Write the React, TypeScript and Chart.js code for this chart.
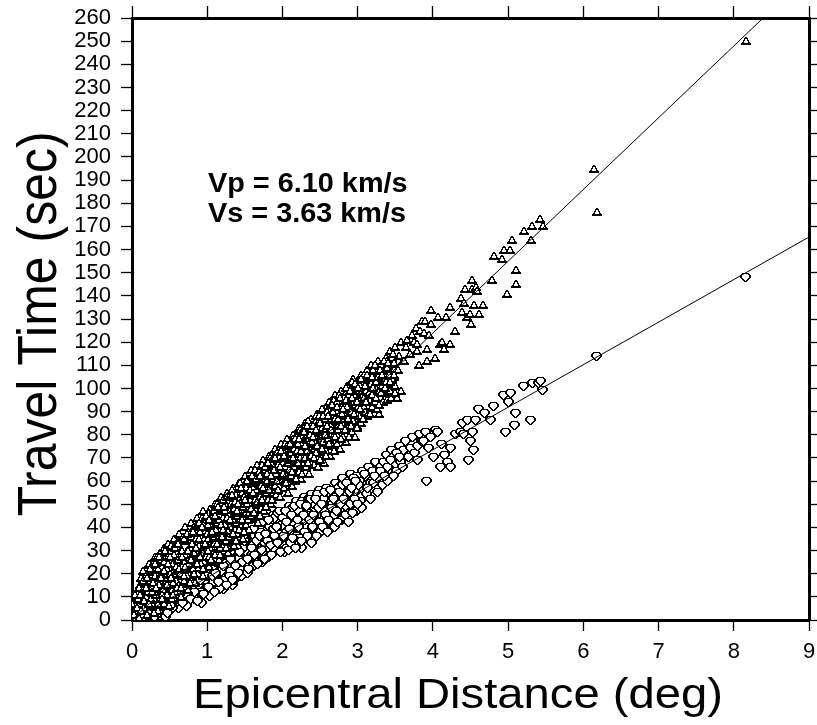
import React, { useEffect, useRef } from "react";
import { Chart, registerables } from "chart.js";

Chart.register(...registerables);

const FONT = '"Liberation Sans", Arial, Helvetica, sans-serif';

const X_TITLE = "Epicentral Distance (deg)";
const Y_TITLE = "Travel Time (sec)";
const NOTE_VP = "Vp = 6.10 km/s";
const NOTE_VS = "Vs = 3.63 km/s";

const X_MIN = 0;
const X_MAX = 9;
const Y_MIN = 0;
const Y_MAX = 260;

// fitted lines (distance deg, time s)
const LINE_S_X = [0, 8.39];
const LINE_S_Y = [0, 260];
const LINE_P_X = [0, 9];
const LINE_P_Y = [0, 165.4];

// S arrivals (triangles)
const S_NEAR: [number, number][] = [
  [0.02, 1], [0.03, 5], [0.05, 9], [0.06, 2], [0.08, 12], [0.09, 6], [0.1, 3], [0.11, 15], [0.12, 9], [0.14, 1],
  [0.15, 18], [0.16, 12], [0.18, 5], [0.19, 21], [0.2, 15], [0.21, 8], [0.23, 24], [0.24, 11], [0.25, 18], [0.26, 3],
  [0.28, 22], [0.29, 14], [0.3, 27], [0.31, 8], [0.33, 19], [0.34, 25], [0.35, 12], [0.37, 29], [0.38, 17], [0.39, 6],
  [0.4, 23], [0.42, 31], [0.43, 14], [0.44, 20], [0.45, 27], [0.47, 10], [0.48, 33], [0.49, 18], [0.5, 25],
  [0.52, 30], [0.53, 13], [0.54, 21], [0.56, 35], [0.57, 26], [0.58, 17], [0.6, 31], [0.61, 22], [0.62, 37], [0.64, 12],
  [0.65, 28], [0.66, 19], [0.68, 34], [0.69, 25], [0.7, 40], [0.72, 16], [0.73, 30], [0.74, 22], [0.76, 37], [0.77, 28],
  [0.78, 42], [0.8, 19], [0.81, 33], [0.82, 25], [0.84, 39], [0.85, 30], [0.86, 44], [0.88, 22], [0.89, 35], [0.9, 27],
  [0.92, 41], [0.93, 32], [0.94, 47], [0.96, 25], [0.97, 38], [0.98, 30], [1.0, 44],
];
const S_NEAR_2: [number, number][] = [
  [0.01, 3], [0.03, 8], [0.04, 0.5], [0.06, 12], [0.07, 4], [0.08, 9], [0.09, 14], [0.05, 6], [0.02, 10],
  [0.11, 7], [0.12, 18], [0.13, 2], [0.14, 13], [0.15, 21], [0.16, 5], [0.17, 16], [0.18, 10], [0.19, 19],
  [0.21, 12], [0.22, 24], [0.23, 4], [0.24, 17], [0.25, 9], [0.26, 21], [0.27, 14], [0.28, 6], [0.29, 25],
  [0.31, 19], [0.32, 11], [0.33, 27], [0.34, 4], [0.35, 22], [0.36, 15], [0.37, 9], [0.38, 26], [0.39, 20],
  [0.41, 13], [0.42, 25], [0.43, 7], [0.44, 29], [0.45, 17], [0.46, 22], [0.47, 11], [0.48, 27], [0.49, 15],
  [0.51, 20], [0.52, 32], [0.53, 9], [0.54, 24], [0.55, 16], [0.56, 28], [0.57, 12], [0.58, 33], [0.59, 21],
  [0.61, 26], [0.62, 15], [0.63, 34], [0.64, 20], [0.65, 10], [0.66, 30], [0.67, 23], [0.68, 36], [0.69, 17],
  [0.71, 28], [0.72, 34], [0.73, 19], [0.74, 13], [0.75, 38], [0.76, 24], [0.77, 31], [0.78, 17], [0.79, 36],
  [0.81, 22], [0.82, 40], [0.83, 29], [0.84, 16], [0.85, 35], [0.86, 26], [0.87, 41], [0.88, 20], [0.89, 32],
  [0.91, 38], [0.92, 24], [0.93, 44], [0.94, 29], [0.95, 19], [0.96, 35], [0.97, 42], [0.98, 27], [0.99, 33],
];
const S_MID: [number, number][] = [
  [1.01, 35], [1.02, 27], [1.04, 48], [1.05, 40], [1.06, 31], [1.08, 45], [1.09, 36], [1.1, 50], [1.12, 29], [1.13, 42],
  [1.14, 34], [1.16, 47], [1.17, 39], [1.18, 53], [1.2, 32], [1.21, 44], [1.22, 37], [1.24, 50], [1.25, 41], [1.26, 55],
  [1.28, 35], [1.29, 47], [1.3, 40], [1.32, 53], [1.33, 44], [1.34, 57], [1.36, 38], [1.37, 49], [1.38, 42], [1.4, 55],
  [1.41, 46], [1.42, 59], [1.44, 40], [1.45, 51], [1.46, 45], [1.48, 58], [1.49, 49], [1.5, 62],
  [1.52, 44], [1.53, 55], [1.54, 48], [1.56, 61], [1.57, 52], [1.58, 65], [1.6, 46], [1.61, 57], [1.62, 50], [1.64, 63],
  [1.65, 54], [1.66, 67], [1.68, 48], [1.69, 59], [1.7, 53], [1.72, 65], [1.73, 56], [1.74, 69], [1.76, 51], [1.77, 61],
  [1.78, 56], [1.8, 67], [1.81, 59], [1.82, 71], [1.84, 53], [1.85, 64], [1.86, 58], [1.88, 69], [1.89, 61], [1.9, 74],
  [1.92, 56], [1.93, 66], [1.94, 60], [1.96, 72], [1.97, 64], [1.98, 76], [2.0, 58],
];
const S_MID_2: [number, number][] = [
  [1.01, 41], [1.02, 23], [1.03, 46], [1.04, 31], [1.05, 37], [1.06, 25], [1.07, 44], [1.08, 33], [1.09, 48],
  [1.11, 28], [1.12, 39], [1.13, 50], [1.14, 35], [1.15, 26], [1.16, 43], [1.17, 31], [1.18, 48], [1.19, 38],
  [1.21, 52], [1.22, 30], [1.23, 41], [1.24, 47], [1.25, 34], [1.26, 53], [1.27, 38], [1.28, 29], [1.29, 45],
  [1.31, 50], [1.32, 36], [1.33, 56], [1.34, 43], [1.35, 32], [1.36, 48], [1.37, 39], [1.38, 54], [1.39, 45],
  [1.41, 37], [1.42, 52], [1.43, 59], [1.44, 46], [1.45, 40], [1.46, 55], [1.47, 35], [1.48, 49], [1.49, 43],
  [1.51, 57], [1.52, 41], [1.53, 50], [1.54, 61], [1.55, 46], [1.56, 39], [1.57, 54], [1.58, 48], [1.59, 59],
  [1.61, 44], [1.62, 60], [1.63, 52], [1.64, 65], [1.65, 47], [1.66, 56], [1.67, 42], [1.68, 62], [1.69, 50],
  [1.71, 58], [1.72, 48], [1.73, 67], [1.74, 53], [1.75, 62], [1.76, 47], [1.77, 65], [1.78, 55], [1.79, 60],
  [1.81, 52], [1.82, 64], [1.83, 70], [1.84, 57], [1.85, 50], [1.86, 67], [1.87, 61], [1.88, 55], [1.89, 71],
  [1.91, 63], [1.92, 54], [1.93, 72], [1.94, 67], [1.95, 58], [1.96, 70], [1.97, 53], [1.98, 65], [1.99, 60],
];
const S_FAR: [number, number][] = [
  [2.01, 68], [2.02, 62], [2.04, 74], [2.05, 66], [2.06, 78], [2.08, 61], [2.09, 71], [2.1, 65], [2.12, 77], [2.13, 69],
  [2.14, 80], [2.16, 63], [2.17, 73], [2.18, 67], [2.2, 79], [2.21, 71], [2.22, 83], [2.24, 66], [2.25, 76], [2.26, 70],
  [2.28, 81], [2.29, 73], [2.3, 85], [2.32, 68], [2.33, 78], [2.34, 72], [2.36, 84], [2.37, 76], [2.38, 87], [2.4, 70],
  [2.41, 80], [2.42, 74], [2.44, 86], [2.45, 78], [2.46, 89], [2.48, 73], [2.49, 83], [2.5, 77],
  [2.52, 88], [2.53, 80], [2.54, 91], [2.56, 75], [2.57, 85], [2.58, 79], [2.6, 91], [2.61, 83], [2.62, 94], [2.64, 77],
  [2.65, 88], [2.66, 82], [2.68, 93], [2.69, 85], [2.7, 97], [2.72, 80], [2.73, 90], [2.74, 84], [2.76, 96], [2.77, 88],
  [2.78, 99], [2.8, 82], [2.81, 93], [2.82, 87], [2.84, 98], [2.85, 90], [2.86, 101], [2.88, 85], [2.89, 95], [2.9, 80],
  [2.92, 100], [2.93, 92], [2.94, 104], [2.95, 94], [2.96, 87], [2.97, 97], [2.98, 91], [3.0, 103],
  [3.02, 95], [3.03, 88], [3.04, 98], [3.05, 106], [3.06, 99], [3.08, 92], [3.1, 104], [3.12, 97], [3.13, 108], [3.15, 101],
  [3.17, 94], [3.17, 101], [3.18, 110], [3.2, 103], [3.22, 97], [3.24, 107], [3.25, 100], [3.27, 112], [3.28, 89], [3.3, 104],
  [3.32, 99], [3.33, 110], [3.35, 106], [3.35, 104], [3.37, 96], [3.38, 113], [3.4, 102], [3.42, 108], [3.43, 116], [3.45, 98],
  [3.47, 110], [3.48, 105], [3.48, 108], [3.5, 118], [3.52, 96], [3.53, 108], [3.55, 114], [3.57, 99], [3.58, 120], [3.6, 112],
];
const S_FAR_2: [number, number][] = [
  [2.01, 73], [2.02, 57], [2.03, 66], [2.04, 76], [2.05, 61], [2.06, 70], [2.07, 55], [2.08, 68], [2.09, 75],
  [2.11, 62], [2.12, 72], [2.13, 58], [2.14, 78], [2.15, 66], [2.16, 74], [2.17, 60], [2.18, 79], [2.19, 69],
  [2.21, 76], [2.22, 64], [2.23, 82], [2.24, 70], [2.25, 61], [2.26, 79], [2.27, 67], [2.28, 74], [2.29, 83],
  [2.31, 66], [2.32, 80], [2.33, 73], [2.34, 86], [2.35, 63], [2.36, 77], [2.37, 70], [2.38, 84], [2.39, 68],
  [2.41, 84], [2.42, 67], [2.43, 77], [2.44, 88], [2.45, 72], [2.46, 81], [2.47, 66], [2.48, 86], [2.49, 75],
  [2.51, 70], [2.52, 83], [2.53, 91], [2.54, 77], [2.55, 68], [2.56, 87], [2.57, 81], [2.58, 73], [2.59, 90],
  [2.61, 78], [2.62, 88], [2.63, 71], [2.64, 93], [2.65, 84], [2.66, 75], [2.67, 90], [2.68, 80], [2.69, 95],
  [2.71, 86], [2.72, 76], [2.73, 94], [2.74, 82], [2.75, 97], [2.76, 74], [2.77, 89], [2.78, 84], [2.79, 92],
  [2.81, 79], [2.82, 96], [2.83, 88], [2.84, 77], [2.85, 100], [2.86, 92], [2.87, 83], [2.88, 97], [2.89, 86],
  [2.91, 90], [2.92, 81], [2.93, 103], [2.94, 86], [2.95, 97], [2.96, 79], [2.97, 93], [2.98, 101], [2.99, 84],
  [3.01, 92], [3.03, 101], [3.05, 85], [3.07, 97], [3.09, 106], [3.1, 90],
  [3.11, 99], [3.13, 88], [3.15, 105], [3.16, 95], [3.18, 102], [3.19, 92],
  [3.21, 108], [3.23, 94], [3.25, 103], [3.26, 91], [3.28, 107], [3.29, 99],
  [3.31, 110], [3.33, 101], [3.34, 94], [3.36, 108], [3.38, 103], [3.39, 112],
  [3.41, 106], [3.43, 99], [3.45, 113], [3.46, 104], [3.48, 111], [3.49, 101],
];
const S_FILL: [number, number][] = [
  [0.005, 7], [0.025, 2], [0.045, 11], [0.065, 5], [0.085, 9], [0.095, 1],
  [0.105, 11], [0.125, 4], [0.145, 17], [0.165, 8], [0.185, 14], [0.195, 2],
  [0.205, 18], [0.225, 7], [0.245, 22], [0.265, 12], [0.285, 16], [0.295, 3],
  [0.305, 24], [0.325, 14], [0.345, 7], [0.365, 27], [0.385, 18], [0.395, 11],
  [0.405, 9], [0.425, 21], [0.445, 30], [0.465, 15], [0.485, 24], [0.495, 6],
  [0.505, 27], [0.525, 18], [0.545, 11], [0.565, 31], [0.585, 23], [0.595, 14],
  [0.605, 33], [0.625, 22], [0.645, 14], [0.665, 27], [0.685, 35], [0.695, 19],
  [0.705, 23], [0.725, 37], [0.745, 30], [0.765, 16], [0.785, 26], [0.795, 33],
  [0.805, 38], [0.825, 20], [0.845, 31], [0.865, 24], [0.885, 42], [0.895, 35],
  [0.905, 27], [0.925, 40], [0.945, 22], [0.965, 33], [0.985, 45], [0.995, 37],
  [1.005, 30], [1.025, 43], [1.045, 26], [1.065, 38], [1.085, 47], [1.095, 33],
  [1.105, 45], [1.125, 33], [1.145, 49], [1.165, 28], [1.185, 41], [1.195, 36],
  [1.205, 39], [1.225, 49], [1.245, 31], [1.265, 44], [1.285, 53], [1.295, 36],
  [1.305, 43], [1.325, 54], [1.345, 37], [1.365, 51], [1.385, 34], [1.395, 47],
  [1.405, 50], [1.425, 39], [1.445, 57], [1.465, 43], [1.485, 53], [1.495, 38],
  [1.505, 52], [1.525, 60], [1.545, 43], [1.565, 56], [1.585, 45], [1.595, 62],
  [1.605, 55], [1.625, 46], [1.645, 61], [1.665, 51], [1.685, 64], [1.695, 45],
  [1.705, 62], [1.725, 52], [1.745, 57], [1.765, 66], [1.785, 49], [1.795, 63],
  [1.805, 68], [1.825, 56], [1.845, 62], [1.865, 52], [1.885, 65], [1.895, 58],
  [1.905, 70], [1.925, 60], [1.945, 56], [1.965, 66], [1.985, 73], [1.995, 62],
  [2.005, 63], [2.025, 71], [2.045, 59], [2.065, 75], [2.085, 65], [2.095, 69],
  [2.105, 76], [2.125, 64], [2.145, 70], [2.165, 78], [2.185, 61], [2.195, 73],
  [2.205, 68], [2.225, 78], [2.245, 73], [2.265, 63], [2.285, 81], [2.295, 70],
  [2.305, 75], [2.325, 84], [2.345, 68], [2.365, 80], [2.385, 71], [2.395, 77],
  [2.405, 79], [2.425, 70], [2.445, 82], [2.465, 75], [2.485, 88], [2.495, 69],
  [2.505, 85], [2.525, 74], [2.545, 88], [2.565, 80], [2.585, 71], [2.595, 84],
  [2.605, 88], [2.625, 76], [2.645, 82], [2.665, 93], [2.685, 73], [2.695, 87],
  [2.705, 79], [2.725, 92], [2.745, 87], [2.765, 96], [2.785, 78], [2.795, 89],
  [2.805, 91], [2.825, 82], [2.845, 95], [2.865, 87], [2.885, 79], [2.895, 99],
  [2.905, 84], [2.925, 96], [2.945, 89], [2.965, 102], [2.985, 94], [2.995, 83],
  [3.005, 100], [3.025, 91], [3.045, 104], [3.065, 87], [3.085, 96], [3.095, 101],
  [3.105, 94], [3.125, 106], [3.145, 98], [3.165, 89], [3.185, 105], [3.195, 97],
  [3.205, 100], [3.225, 110], [3.245, 96], [3.265, 105], [3.285, 93], [3.295, 108],
  [3.305, 98], [3.325, 106], [3.345, 112], [3.365, 100], [3.385, 95], [3.395, 109],
  [3.405, 111], [3.425, 103], [3.445, 96], [3.465, 115], [3.485, 106], [3.495, 98],
];
const S_TAIL: [number, number][] = [
  [3.61, 112], [3.64, 118], [3.66, 121], [3.7, 115], [3.72, 123], [3.75, 120], [3.77, 126], [3.79, 116], [3.79, 119], [3.81, 110],
  [3.83, 125], [3.85, 129], [3.88, 124], [3.9, 129], [3.92, 117], [3.92, 112], [3.95, 123], [3.97, 128], [3.97, 134], [4.03, 113],
  [4.07, 131], [4.1, 119], [4.12, 120], [4.15, 117], [4.17, 131], [4.23, 119], [4.23, 135], [4.3, 125], [4.37, 139], [4.39, 133],
  [4.41, 137], [4.43, 143], [4.46, 131], [4.49, 132], [4.51, 128], [4.52, 147], [4.52, 143], [4.54, 136], [4.57, 144], [4.59, 142],
  [4.61, 132], [4.66, 136], [4.78, 147], [4.81, 157], [4.92, 156], [4.94, 160], [4.98, 141], [5.03, 160], [5.05, 164], [5.1, 151],
  [5.1, 145], [5.21, 168], [5.31, 164], [5.32, 170], [5.43, 173], [5.47, 170], [6.14, 195], [6.18, 176], [8.16, 250],
];

// P arrivals (pentagons)
const P_NEAR: [number, number][] = [
  [0.05, 1], [0.1, 3], [0.15, 2], [0.18, 6], [0.22, 4], [0.25, 9], [0.28, 6], [0.3, 11], [0.33, 8], [0.36, 13],
  [0.4, 10], [0.43, 15], [0.45, 1], [0.46, 7], [0.5, 12], [0.52, 17], [0.55, 9], [0.58, 14], [0.6, 19], [0.62, 5],
  [0.64, 11], [0.67, 16], [0.7, 21], [0.72, 13], [0.75, 8], [0.77, 18], [0.8, 23], [0.82, 14], [0.85, 10], [0.87, 20],
  [0.9, 25], [0.92, 7], [0.94, 16], [0.97, 22], [1.0, 13],
  [0.02, 2], [0.04, 4], [0.07, 1], [0.09, 3], [0.11, 5], [0.13, 1], [0.16, 7], [0.19, 3],
  [0.21, 8], [0.24, 2], [0.26, 6], [0.29, 10], [0.31, 3], [0.34, 11], [0.36, 6], [0.39, 9],
  [0.41, 13], [0.43, 4], [0.47, 11], [0.49, 7], [0.51, 15], [0.54, 5], [0.56, 10], [0.59, 16],
  [0.61, 8], [0.63, 14], [0.66, 19], [0.68, 11], [0.71, 16], [0.73, 6], [0.76, 21], [0.79, 12],
  [0.81, 18], [0.83, 9], [0.86, 23], [0.89, 15], [0.91, 12], [0.93, 20], [0.96, 26], [0.98, 17],
];
const P_MID: [number, number][] = [
  [1.02, 27], [1.04, 18], [1.06, 11], [1.08, 23], [1.1, 29], [1.12, 15], [1.14, 20], [1.16, 26], [1.18, 31], [1.2, 17],
  [1.22, 13], [1.24, 23], [1.26, 28], [1.28, 33], [1.3, 19], [1.32, 25], [1.34, 15], [1.36, 30], [1.38, 35], [1.4, 21],
  [1.42, 27], [1.44, 32], [1.46, 19], [1.48, 37], [1.5, 24], [1.52, 29], [1.54, 34], [1.56, 22], [1.58, 39], [1.6, 27],
  [1.62, 32], [1.64, 24], [1.66, 37], [1.68, 41], [1.7, 29], [1.72, 34], [1.74, 26], [1.76, 39], [1.78, 43], [1.8, 31],
  [1.82, 36], [1.84, 28], [1.86, 41], [1.88, 45], [1.9, 33], [1.92, 38], [1.94, 30], [1.96, 43], [1.98, 47], [2.0, 35],
  [1.01, 22], [1.03, 10], [1.05, 28], [1.08, 16], [1.11, 25], [1.13, 31], [1.16, 13], [1.19, 21],
  [1.21, 28], [1.23, 17], [1.26, 33], [1.29, 24], [1.31, 21], [1.33, 30], [1.36, 17], [1.39, 35],
  [1.41, 26], [1.43, 36], [1.46, 22], [1.48, 31], [1.51, 34], [1.53, 20], [1.56, 39], [1.59, 28],
  [1.61, 23], [1.63, 36], [1.66, 30], [1.69, 40], [1.71, 38], [1.73, 25], [1.76, 33], [1.79, 42],
  [1.81, 27], [1.83, 40], [1.86, 35], [1.89, 44], [1.91, 30], [1.93, 46], [1.96, 37], [1.99, 41],
];
const P_FAR: [number, number][] = [
  [2.03, 40], [2.05, 31], [2.07, 45], [2.09, 49], [2.11, 37], [2.13, 42], [2.15, 33], [2.17, 47], [2.19, 51], [2.21, 39],
  [2.23, 44], [2.25, 31], [2.27, 49], [2.29, 53], [2.31, 41], [2.33, 46], [2.35, 36], [2.37, 50], [2.39, 54], [2.41, 43],
  [2.43, 48], [2.45, 38], [2.47, 52], [2.49, 56], [2.51, 45], [2.53, 50], [2.55, 40], [2.57, 54], [2.59, 57], [2.61, 47],
  [2.63, 52], [2.65, 42], [2.67, 56], [2.7, 59], [2.72, 49], [2.74, 54], [2.76, 44], [2.78, 58], [2.8, 61], [2.82, 51],
  [2.84, 56], [2.86, 46], [2.88, 60], [2.9, 63], [2.92, 53], [2.94, 58], [2.96, 48], [2.98, 62], [3.0, 56],
  [2.01, 44], [2.03, 29], [2.06, 38], [2.09, 46], [2.11, 33], [2.14, 48], [2.16, 41], [2.19, 36],
  [2.21, 47], [2.23, 35], [2.26, 51], [2.29, 43], [2.31, 38], [2.34, 52], [2.36, 45], [2.39, 33],
  [2.41, 50], [2.44, 40], [2.46, 54], [2.49, 46], [2.51, 38], [2.54, 52], [2.56, 47], [2.59, 42],
  [2.61, 55], [2.64, 45], [2.66, 50], [2.69, 40], [2.71, 53], [2.74, 57], [2.76, 47], [2.79, 43],
  [2.81, 58], [2.84, 49], [2.86, 54], [2.89, 45], [2.91, 50], [2.94, 61], [2.96, 55], [2.99, 47],
  [3.02, 60], [3.04, 51], [3.06, 64], [3.08, 56], [3.1, 62], [3.12, 54], [3.15, 66], [3.17, 59], [3.2, 64], [3.21, 59],
  [3.24, 68], [3.27, 61], [3.3, 66], [3.33, 58], [3.35, 68], [3.38, 71], [3.39, 60], [3.42, 65], [3.45, 73], [3.48, 70],
  [3.5, 67], [3.52, 64], [3.55, 75], [3.57, 68], [3.6, 72], [3.61, 73], [3.64, 77], [3.67, 70], [3.7, 74], [3.73, 79],
  [3.76, 72], [3.79, 75], [3.79, 69], [3.82, 80], [3.85, 77], [3.88, 77], [3.9, 81], [3.92, 60], [3.94, 74], [3.97, 79],
  [4.01, 70], [4.03, 82], [4.06, 81],
  [3.01, 58], [3.05, 48], [3.09, 63], [3.13, 57], [3.17, 52], [3.22, 62], [3.26, 55], [3.31, 64], [3.36, 62], [3.39, 66],
  [3.43, 69], [3.47, 62], [3.51, 72], [3.56, 70], [3.59, 66],
];
const P_FILL: [number, number][] = [
  [0.015, 3], [0.035, 1], [0.055, 5], [0.075, 2], [0.095, 4],
  [0.115, 8], [0.135, 4], [0.155, 1], [0.175, 9], [0.195, 6],
  [0.215, 3], [0.235, 10], [0.255, 6], [0.275, 12], [0.295, 1],
  [0.315, 9], [0.335, 14], [0.355, 3], [0.375, 11], [0.395, 6],
  [0.415, 16], [0.435, 9], [0.455, 13], [0.475, 3], [0.495, 18],
  [0.515, 6], [0.535, 19], [0.555, 13], [0.575, 9], [0.595, 17],
  [0.615, 21], [0.635, 10], [0.655, 16], [0.675, 7], [0.695, 22],
  [0.715, 11], [0.735, 24], [0.755, 15], [0.775, 9], [0.795, 20],
  [0.815, 26], [0.835, 12], [0.855, 19], [0.875, 8], [0.895, 24],
  [0.915, 17], [0.935, 29], [0.955, 11], [0.975, 23], [0.995, 19],
  [1.015, 14], [1.035, 25], [1.055, 32], [1.075, 19], [1.095, 12],
  [1.115, 20], [1.135, 34], [1.155, 16], [1.175, 27], [1.195, 30],
  [1.215, 23], [1.235, 36], [1.255, 15], [1.275, 30], [1.295, 19],
  [1.315, 26], [1.335, 17], [1.355, 38], [1.375, 23], [1.395, 31],
  [1.415, 20], [1.435, 29], [1.455, 40], [1.475, 25], [1.495, 34],
  [1.515, 37], [1.535, 26], [1.555, 22], [1.575, 41], [1.595, 31],
  [1.615, 39], [1.635, 28], [1.655, 34], [1.675, 24], [1.695, 36],
  [1.715, 30], [1.735, 42], [1.755, 26], [1.775, 37], [1.795, 34],
  [1.815, 43], [1.835, 32], [1.855, 28], [1.875, 39], [1.895, 36],
  [1.915, 40], [1.935, 33], [1.955, 47], [1.975, 29], [1.995, 44],
  [2.015, 36], [2.035, 47], [2.055, 42], [2.075, 30], [2.095, 39],
  [2.115, 45], [2.135, 35], [2.155, 49], [2.175, 31], [2.195, 43],
  [2.215, 40], [2.235, 50], [2.255, 34], [2.275, 45], [2.295, 38],
  [2.315, 49], [2.335, 36], [2.355, 43], [2.375, 52], [2.395, 40],
  [2.415, 45], [2.435, 52], [2.455, 36], [2.475, 48], [2.495, 42],
  [2.515, 50], [2.535, 40], [2.555, 55], [2.575, 45], [2.595, 38],
  [2.615, 43], [2.635, 56], [2.655, 48], [2.675, 52], [2.695, 45],
  [2.715, 47], [2.735, 42], [2.755, 55], [2.775, 50], [2.795, 58],
  [2.815, 52], [2.835, 45], [2.855, 59], [2.875, 42], [2.895, 55],
  [2.915, 57], [2.935, 46], [2.955, 52], [2.975, 60], [2.995, 50],
];
const P_TAIL: [number, number][] = [
  [4.1, 66], [4.12, 76], [4.15, 71], [4.19, 68], [4.23, 74], [4.23, 66], [4.3, 80], [4.37, 81], [4.39, 85], [4.41, 80],
  [4.46, 86], [4.48, 69], [4.5, 77], [4.52, 81], [4.54, 73], [4.57, 86], [4.61, 91], [4.68, 89], [4.77, 86], [4.81, 92],
  [4.94, 97], [4.97, 81], [5.01, 94], [5.03, 98], [5.09, 84], [5.1, 89], [5.21, 101], [5.3, 86], [5.32, 102], [5.41, 102],
  [5.43, 103], [5.46, 99], [6.17, 114], [8.16, 148],
];

const TRI_ART = [
  "....##....",
  "...####...",
  "...#..#...",
  "..##..##..",
  "..#....#..",
  ".##....##.",
  "##########",
  "##########",
];
const PENT_ART = [
  "..#######..",
  ".##.....##.",
  "##.......##",
  "##.......##",
  "##.......##",
  ".##.....##.",
  "..##...##..",
  "...##.##...",
  "....###....",
];

function toPts(list: [number, number][]) {
  return list.map(([x, y]) => ({ x, y }));
}
function toLine(xs: number[], ys: number[]) {
  return xs.map((x, i) => ({ x, y: ys[i] }));
}

function makeMarker(art: string[]): HTMLCanvasElement {
  const c = document.createElement("canvas");
  c.width = art[0].length;
  c.height = art.length;
  const g = c.getContext("2d")!;
  art.forEach((row, r) => {
    const first = row.indexOf("#");
    const last = row.lastIndexOf("#");
    if (first >= 0) {
      g.fillStyle = "#fff";
      g.fillRect(first, r, last - first + 1, 1);
    }
    g.fillStyle = "#000";
    for (let i = 0; i < row.length; i++) if (row[i] === "#") g.fillRect(i, r, 1, 1);
  });
  return c;
}

const crispPlugin = {
  id: "crisp",
  beforeDatasetsDraw(chart: any) {
    chart.ctx.save();
    chart.ctx.imageSmoothingEnabled = false;
  },
  afterDatasetsDraw(chart: any) {
    chart.ctx.restore();
  },
};

const titlesPlugin = {
  id: "titles",
  afterDraw(chart: any) {
    const ctx: CanvasRenderingContext2D = chart.ctx;
    ctx.save();
    ctx.fillStyle = "#000";
    ctx.textBaseline = "alphabetic";

    ctx.save();
    ctx.font = `42px ${FONT}`;
    ctx.textAlign = "center";
    ctx.translate(458, 708);
    ctx.scale(1.124, 1);
    ctx.fillText(X_TITLE, 0, 0);
    ctx.restore();

    ctx.save();
    ctx.font = `50px ${FONT}`;
    ctx.textAlign = "center";
    ctx.translate(56, 324);
    ctx.scale(1.12, 1);
    ctx.rotate(-Math.PI / 2);
    ctx.fillText(Y_TITLE, 0, 0);
    ctx.restore();

    ctx.save();
    ctx.font = `bold 28px ${FONT}`;
    ctx.textAlign = "left";
    ctx.translate(208, 192);
    ctx.scale(1.03, 1);
    ctx.fillText(NOTE_VP, 0, 0);
    ctx.fillText(NOTE_VS, 0, 30);
    ctx.restore();

    ctx.restore();
  },
};

export default function App() {
  const ref = useRef<HTMLCanvasElement>(null);

  useEffect(() => {
    document.body.style.margin = "0";
    const canvas = ref.current;
    if (!canvas) return;
    const tri = makeMarker(TRI_ART);
    const pent = makeMarker(PENT_ART);

    const sPts = toPts([
      ...S_NEAR, ...S_NEAR_2, ...S_MID, ...S_MID_2, ...S_FAR, ...S_FAR_2, ...S_FILL, ...S_TAIL,
    ]);
    const pPts = toPts([...P_NEAR, ...P_MID, ...P_FAR, ...P_FILL, ...P_TAIL]);

    const axisBorder = { display: true, color: "#000", width: 3 };
    const tickGrid = (len: number) => ({
      drawOnChartArea: false,
      drawTicks: true,
      tickLength: len,
      tickWidth: 1.3,
      tickColor: "#000",
    });

    const chart = new Chart(canvas, {
      type: "scatter",
      data: {
        datasets: [
          {
            label: "S line",
            type: "line",
            data: toLine(LINE_S_X, LINE_S_Y),
            borderColor: "#000",
            borderWidth: 1,
            pointRadius: 0,
            fill: false,
            order: 0,
          } as any,
          {
            label: "P line",
            type: "line",
            data: toLine(LINE_P_X, LINE_P_Y),
            borderColor: "#000",
            borderWidth: 1,
            pointRadius: 0,
            fill: false,
            order: 0,
          } as any,
          {
            label: "S",
            data: sPts,
            pointStyle: tri,
            pointRadius: 5,
            order: 1,
          } as any,
          {
            label: "P",
            data: pPts,
            pointStyle: pent,
            pointRadius: 5,
            order: 2,
          } as any,
        ],
      },
      options: {
        responsive: false,
        animation: false,
        devicePixelRatio: 1,
        events: [],
        layout: { padding: 0 },
        plugins: {
          legend: { display: false },
          tooltip: { enabled: false },
          title: { display: false },
        },
        scales: {
          x: {
            type: "linear",
            position: "bottom",
            min: X_MIN,
            max: X_MAX,
            ticks: {
              stepSize: 1,
              autoSkip: false,
              maxRotation: 0,
              color: "#000",
              padding: 8,
              font: { family: FONT, size: 22 },
            },
            grid: tickGrid(11),
            border: axisBorder,
            afterFit: (s: any) => {
              s.height = 105;
              s.paddingLeft = 0;
              s.paddingRight = 0;
            },
          },
          x2: {
            type: "linear",
            position: "top",
            min: X_MIN,
            max: X_MAX,
            ticks: { stepSize: 1, display: false },
            grid: tickGrid(12),
            border: axisBorder,
            afterFit: (s: any) => {
              s.height = 18;
              s.paddingLeft = 0;
              s.paddingRight = 0;
            },
          },
          y: {
            type: "linear",
            position: "left",
            min: Y_MIN,
            max: Y_MAX,
            ticks: {
              stepSize: 10,
              autoSkip: false,
              color: "#000",
              padding: 10,
              font: { family: FONT, size: 22, lineHeight: 1 },
            },
            grid: tickGrid(11),
            border: axisBorder,
            afterFit: (s: any) => {
              s.width = 132;
              s.paddingTop = 0;
              s.paddingBottom = 0;
            },
          },
          y2: {
            type: "linear",
            position: "right",
            min: Y_MIN,
            max: Y_MAX,
            ticks: { stepSize: 10, display: false },
            grid: tickGrid(9),
            border: axisBorder,
            afterFit: (s: any) => {
              s.width = 8;
              s.paddingTop = 0;
              s.paddingBottom = 0;
            },
          },
        },
      } as any,
      plugins: [crispPlugin, titlesPlugin],
    });

    return () => chart.destroy();
  }, []);

  return (
    <div style={{ position: "absolute", left: 0, top: 0, width: 817, height: 725, background: "#fff" }}>
      <canvas ref={ref} width={817} height={725} style={{ display: "block", width: 817, height: 725 }} />
    </div>
  );
}
